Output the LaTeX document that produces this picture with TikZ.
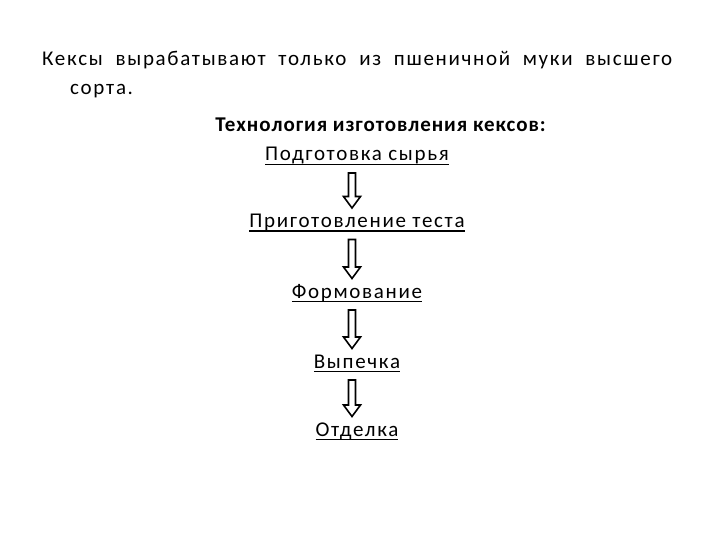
\documentclass[tikz,border=0pt]{standalone}
\usepackage{fontspec}
\setmainfont{Carlito}[LetterSpace=8, BoldFeatures={LetterSpace=4.5}]
\usetikzlibrary{calc}
% underline with fixed depth
\newcommand{\podch}[1]{\setbox0\hbox{#1}\leavevmode\rlap{\rule[-4.2pt]{\wd0}{1.5pt}}\box0}
\tikzset{
  txt/.style={inner sep=0pt, font=\fontsize{21}{25}\selectfont},
  shag/.style={txt, anchor=base},
  blockarrow/.style={draw=black, line width=1.6pt, line join=miter,
    to path={let \p1=(\tikztostart), \p2=(\tikztotarget) in
      (\x1-8.5pt,\y1-12pt) -- (\x1-1.5pt,\y1-12pt) -- (\x1-1.5pt,\y2+31pt)
      -- (\x1+3.5pt,\y2+31pt) -- (\x1-5pt,\y2+19.5pt) -- (\x1-13.5pt,\y2+31pt)
      -- (\x1-8.5pt,\y2+31pt) -- cycle}},
}
\begin{document}
\begin{tikzpicture}[x=1pt,y=-1pt]
  \useasboundingbox (0,0) rectangle (720,540);
  \node[txt, anchor=base west] (vvod) at (42,66)
    {\makebox[630pt][s]{Кексы вырабатывают только из пшеничной муки высшего}};
  \node[txt, anchor=base west] (vvod2) at (70,95) {сорта.};
  \node[txt, anchor=base, font=\fontsize{21}{25}\selectfont\bfseries] (zag) at (380.5,131.5)
    {Технология изготовления кексов:};
  \node[shag] (s1) at (357,161) {\podch{Подготовка сырья}};
  \node[shag] (s2) at (357,227.5) {\podch{Приготовление теста}};
  \node[shag] (s3) at (357,298) {\podch{Формование}};
  \node[shag] (s4) at (357,368) {\podch{Выпечка}};
  \node[shag] (s5) at (357,436) {\podch{Отделка}};
  \draw[blockarrow] (s1.base) to (s2.base);
  \draw[blockarrow] (s2.base) to (s3.base);
  \draw[blockarrow] (s3.base) to (s4.base);
  \draw[blockarrow] (s4.base) to (s5.base);
\end{tikzpicture}
\end{document}
